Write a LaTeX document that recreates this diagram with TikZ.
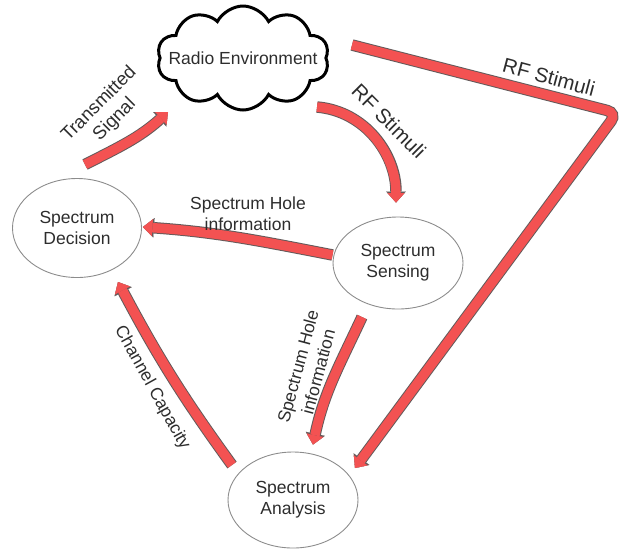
\documentclass[tikz,border=0pt]{standalone}
\usepackage{fontspec}
\setmainfont{Liberation Sans}
\usetikzlibrary{shapes.geometric,shapes.symbols,arrows.meta,calc}

\definecolor{arrowred}{RGB}{243,82,82}
\definecolor{arrowedge}{RGB}{100,90,90}
\definecolor{txtgray}{RGB}{45,45,45}

\tikzset{
  block/.style={ellipse, draw=gray!90, line width=0.9pt, minimum width=130pt,
    minimum height=96pt, align=center, text=txtgray, inner sep=0pt,
    font=\fontsize{17.5}{21}\selectfont},
  redarrow/.style={draw=arrowedge, line width=11.5pt,
    -{Triangle[length=11pt,width=19.5pt,line width=0.1pt]},
    postaction={draw=arrowred, line width=9.5pt,
      -{Triangle[length=9.5pt,width=17pt,line width=0.1pt]}}},
  lbl/.style={text=txtgray, align=center, inner sep=0pt,
    font=\fontsize{17.5}{21}\selectfont},
  biglbl/.style={lbl, font=\fontsize{20.5}{24}\selectfont},
}

\begin{document}
\begin{tikzpicture}[x=1pt,y=-1pt]
    \useasboundingbox (0,0) rectangle (626,550);

    % nodes
    \node[cloud, cloud puffs=10, cloud puff arc=125, aspect=1.7, draw=black,
          line width=3pt, minimum width=172pt, minimum height=104pt,
          inner sep=0pt, text=txtgray, font=\fontsize{17.5}{21}\selectfont]
          (env) at (243,58) {\makebox[0pt]{Radio Environment}};
    \node[block, minimum width=129pt, minimum height=99pt] (decision) at (77,228) {Spectrum\\Decision};
    \node[block, minimum height=92pt] (sensing) at (398,263) {Spectrum\\Sensing};
    \node[block] (analysis) at (293,500) {Spectrum\\Analysis};
    \coordinate (rfbend) at (617,113);

    % arrows
    \draw[redarrow] ($(decision.north)+(8,-13.5)$) to[out=27,in=222] ($(env.center)+(-75,54)$);
    \draw[redarrow] ($(env.center)+(74,49)$) to[out=-5,in=90] ($(sensing.north)+(-2,-14)$);
    \draw[redarrow, rounded corners=10pt] ($(env.center)+(109,-13)$) -- (rfbend) -- ($(analysis.center)+(62,-32)$);
    \draw[redarrow] ($(sensing.west)+(0,-8)$) to[out=169,in=-4] ($(decision.east)+(1,-1)$);
    \draw[redarrow] ($(sensing.center)+(-36,54)$) to[out=-115,in=78] ($(analysis.north)+(20,-7)$);
    \draw[redarrow] ($(analysis.center)+(-61,-35)$) to[out=126,in=-62] ($(decision.center)+(41,54)$);

    % labels
    \node[lbl, rotate=45, font=\fontsize{18.5}{22}\selectfont] (txlbl) at (107,112) {Transmitted\\Signal};
    \node[biglbl, rotate=-45] (rflbl) at (389,121) {RF Stimuli};
    \node[biglbl, rotate=-15] (rflong) at (549,77) {RF Stimuli};
    \node[lbl] (holelbl) at (248,214) {Spectrum Hole\\information};
    \node[lbl, rotate=75] (holelbl2) at (308,369) {Spectrum Hole\\information};
    \node[lbl, rotate=-61] (caplbl) at (152,388) {Channel Capacity};
\end{tikzpicture}
\end{document}
